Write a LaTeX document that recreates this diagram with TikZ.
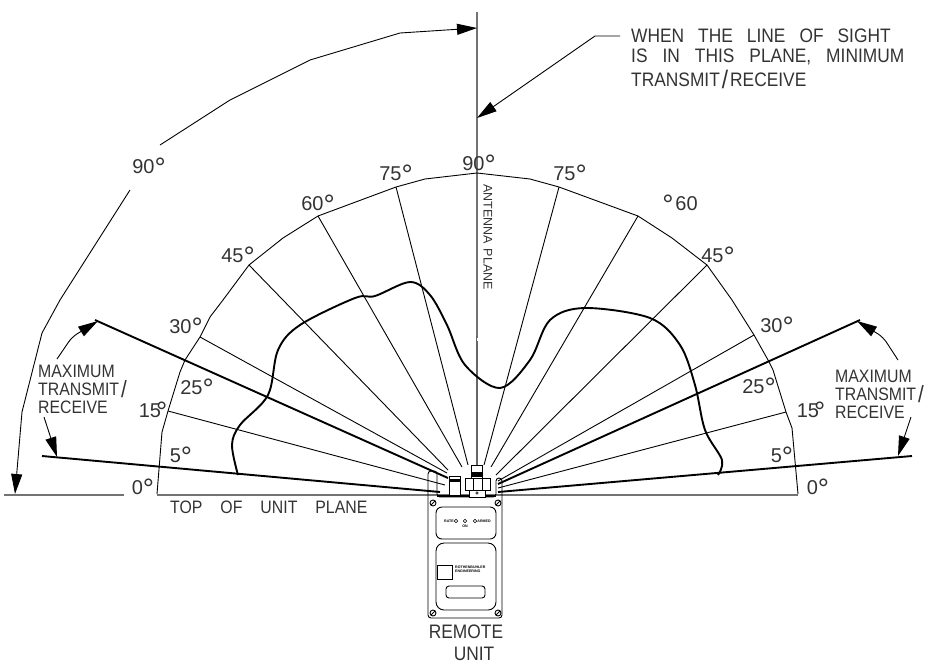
\documentclass[tikz,border=0pt]{standalone}
\usepackage{fontspec}
\setmainfont{Liberation Sans}
\newfontfamily\draftsmall[FakeStretch=0.88]{Liberation Sans}
\newfontfamily\draftbig[FakeStretch=0.89]{Liberation Sans}
\usetikzlibrary{arrows.meta,calc}
\newcommand{\dg}{\smash{\raisebox{-3.5pt}{\fontsize{28}{28}\selectfont °}}}
\newcommand{\wideslash}{\kern2pt\raisebox{-1.5pt}{\scalebox{1.3}[1.3]{/}}\kern2pt}
\tikzset{
  lab/.style={font=\draftsmall\fontsize{18}{18}\selectfont, inner sep=0pt, text=black!80},
  biglab/.style={font=\draftbig\fontsize{19.5}{19.5}\selectfont, inner sep=0pt, text=black!80},
  deglab/.style={font=\fontsize{20}{20}\selectfont, inner sep=0pt, text=black!80},
  leftlab/.style={lab, anchor=west},
  bigleft/.style={biglab, anchor=west},
  radial/.style={line width=0.9pt},
  thickray/.style={line width=1.9pt},
  rim/.style={line width=0.9pt, line join=round},
  plane/.style={line width=1.8pt, draw=black!55},
  patternline/.style={line width=1.9pt},
  lead/.style={line width=0.9pt, -{Triangle[length=20pt,width=11pt]}, shorten >=0pt},
  dev/.style={line width=0.9pt},
  tiny/.style={font=\fontsize{3.6}{4}\selectfont\bfseries, inner sep=0pt}
}
\begin{document}
\begin{tikzpicture}[x=1pt,y=-1pt]
\useasboundingbox (0,0) rectangle (936,667);
% planes
\draw[plane] (4,495) -- (124,495);
\draw[plane] (157,495) -- (798,495);
\draw[plane] (477,12) -- (477,336);
\draw[line width=2.4pt, draw=black!60] (477,336) -- (477,465);
\draw[line width=0.8pt, draw=white] (477,338) -- (477,341);
% rim
\draw[rim] (157,494) -- (162,432) -- (168,411) -- (180,372) -- (185,360) -- (200,337) -- (210,317) -- (223,300) -- (249,265) -- (283,238) -- (318,216) -- (396,187) -- (425,179) -- (477,173) -- (530,179) -- (559,187) -- (638,216) -- (672,238) -- (707,265) -- (732,300) -- (754,335) -- (768,360) -- (773,370) -- (786,412) -- (792,428) -- (798,494);
% radials
\draw[radial] (168,411) -- (445,485);
\draw[radial] (200,337) -- (447,473);
\draw[radial] (249,265) -- (448,470);
\draw[radial] (318,216) -- (462,467);
\draw[radial] (396,187) -- (468,465);
\draw[radial] (559,187) -- (484,465);
\draw[radial] (638,216) -- (491,467);
\draw[radial] (707,265) -- (496,475);
\draw[radial] (754,335) -- (498,481);
\draw[radial] (786,412) -- (498,488);
\draw[thickray] (95,320) -- (448,478);
\draw[thickray] (42,456) -- (440,492);
\draw[thickray] (860,320) -- (498,484);
\draw[thickray] (912,456) -- (498,492);
% pattern
\draw[patternline] plot[smooth, tension=0.55] coordinates {(238,475) (232,445) (240,425) (268,395) (278,350) (300,325) (355,298) (375,296) (410,282) (430,295) (447,325) (465,365) (500,388) (530,360) (550,320) (585,308) (650,318) (680,345) (695,385) (705,430) (722,460) (718,475)};
% leaders
\draw[lead] (130,190) -- (60,300) -- (42,333) -- (22,412) -- (15,494);
\draw[lead] (160,145) -- (230,100) -- (310,60) -- (400,33) -- (477,28);
\draw[lead] (620,36) -- (595,36) -- (477,118);
\draw[lead, rounded corners=6pt] (57,359) -- (72,337) -- (98,321);
\draw[lead] (44,417) -- (57,457);
\draw[lead, rounded corners=6pt] (898,360) -- (883,337) -- (857,321);
\draw[lead] (911,417) -- (898,456);
% device
\draw[dev, rounded corners=3pt] (428,497) -- (428,618) -- (502,618) -- (502,478) -- (496,478) -- (496,497) -- (437,497) -- (437,471) -- (428,471) -- cycle;
\draw[line width=1.6pt] (437,496) -- (496,496);
\foreach \n/\px/\py in {s1/433/503,s2/498/503,s3/433/613,s4/498/613}{
  \coordinate (\n) at (\px,\py);
  \draw[dev] (\n) circle[radius=3];
  \draw[dev] ($(\n)+(-2,2)$) -- ($(\n)+(2,-2)$);
}
\draw[dev, rounded corners=6pt] (436,507) rectangle (496,539);
\draw[dev, rounded corners=8pt] (436,543) rectangle (496,610);
\draw[dev] (437,565) rectangle (452,579);
\draw[dev, rounded corners=3pt] (446,586) rectangle (485,598);
\foreach \n/\px in {l1/456,l2/465,l3/475}{
  \coordinate (\n) at (\px,521);
  \draw[line width=0.6pt] (\n) circle[radius=1.7];
}
\node[tiny] (rate) at (449,521) {RATE};
\node[tiny] (on) at (465,526) {ON};
\node[tiny] (armed) at (484,521) {ARMED};
\node[tiny, align=left, anchor=west] (logo) at (455,569) {ROTHENBUHLER\\ENGINEERING};
% connector hardware
\draw[dev, fill=white] (449,476) rectangle (460,495);
\fill (449,479) rectangle (460,482);
\draw[dev, fill=white] (465,478) rectangle (490,490);
\draw[dev] (473,478) -- (473,490);
\draw[dev] (482,478) -- (482,490);
\draw[dev, fill=white] (471,465) rectangle (482,478);
\fill (471,472) rectangle (482,477);
\draw[dev, fill=white] (469,490) rectangle (485,497);
\draw[line width=0.6pt] (477,493) circle[radius=1.2];
% labels
\node[deglab] (a90) at (149,167) {90\dg};
\node[deglab] (l75) at (396,174) {75\dg};
\node[deglab] (l60) at (318,204) {60\dg};
\node[deglab] (l45) at (238,256) {45\dg};
\node[deglab] (l30) at (186,327) {30\dg};
\node[deglab] (l25) at (197,388) {25\dg};
\node[deglab] (l15) at (153,411) {15\kern-5pt\dg};
\node[deglab] (l5) at (181,456) {5\dg};
\node[deglab] (l0) at (143,488) {0\dg};
\node[deglab] (c90) at (479,164) {90\dg};
\node[deglab] (r75) at (570,174) {75\dg};
\node[deglab] (r60) at (680,204) {\dg\kern2pt 60};
\node[deglab] (r45) at (718,256) {45\dg};
\node[deglab] (r30) at (777,326) {30\dg};
\node[deglab] (r25) at (759,387) {25\dg};
\node[deglab] (r15) at (811,411) {15\kern-5pt\dg};
\node[deglab] (r5) at (782,456) {5\dg};
\node[deglab] (r0) at (818,488) {0\dg};
\node[leftlab] (top) at (170,507) {TOP\hspace{18pt}OF\hspace{18pt}UNIT\hspace{18pt}PLANE};
\node[lab, rotate=-90, font=\fontsize{12.5}{12.5}\selectfont] (ant) at (488,237) {ANTENNA\hspace{5pt}PLANE};
\node[biglab] (rem) at (466,632) {REMOTE};
\node[biglab] (uni) at (474,654) {UNIT};
\node[bigleft] (w1) at (631,36) {WHEN\hspace{14pt}THE\hspace{14pt}LINE\hspace{14pt}OF\hspace{14pt}SIGHT};
\node[bigleft] (w2) at (631,57) {IS\hspace{15pt}IN\hspace{15pt}THIS\hspace{15pt}PLANE,\hspace{15pt}MINIMUM};
\node[bigleft] (w3) at (631,79) {TRANSMIT\wideslash RECEIVE};
\node[leftlab] (m1) at (38,371) {MAXIMUM};
\node[leftlab] (m2) at (38,389) {TRANSMIT\wideslash};
\node[leftlab] (m3) at (38,407) {RECEIVE};
\node[leftlab] (n1) at (835,376) {MAXIMUM};
\node[leftlab] (n2) at (835,394) {TRANSMIT\wideslash};
\node[leftlab] (n3) at (835,412) {RECEIVE};
\end{tikzpicture}
\end{document}
